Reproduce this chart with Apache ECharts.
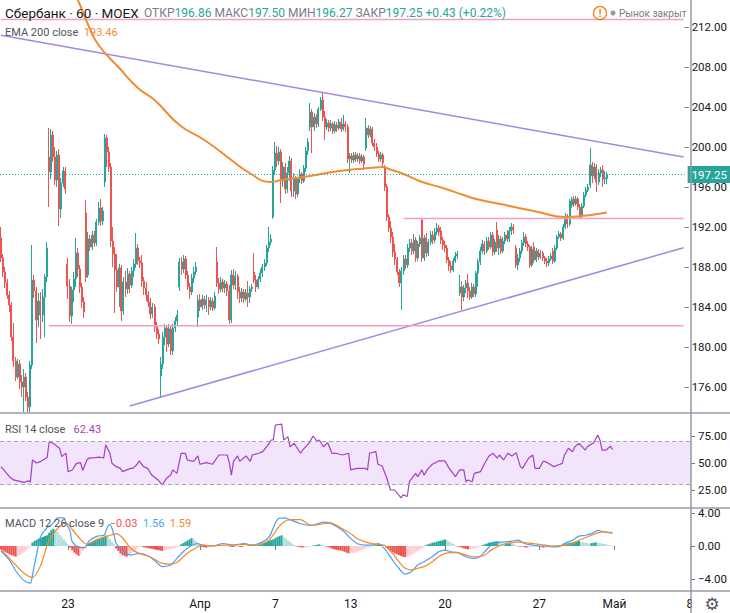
<!DOCTYPE html>
<html><head><meta charset="utf-8">
<script src="https://cdn.jsdelivr.net/npm/echarts@6/dist/echarts.min.js"></script>
<style>html,body{margin:0;padding:0;background:#fff}#c{width:730px;height:613px}</style>
</head><body><div id="c"></div><script>
// ---------- DATA ----------
const tradingDays = ['17.03','18.03','19.03','20.03','23.03','24.03','25.03','26.03','27.03','30.03','31.03','01.04','02.04','03.04','06.04','07.04','08.04','09.04','10.04','13.04','14.04','15.04','16.04','17.04','20.04','21.04','22.04','23.04','24.04','27.04','28.04','29.04','30.04'];
const sessionHours = ['10:00','11:00','12:00','13:00','14:00','15:00','16:00','17:00','18:00'];
const futureSlots = 37;
const xTickLabels = [[32,'23'],[95,'Апр'],[131,'7'],[167,'13'],[212,'20'],[257,'27'],[293,'Май'],[329,'8']];
const priceTicks = [176,180,184,188,192,196,200,204,208,212];
const rsiTicks = [25,50,75];
const macdTicks = [-4,0,4];
const lastPrice = 197.25;

// [open, close, low, high]
const ohlc = [
[190.9,188.9,188.5,192.0],[188.9,187.5,187.0,189.3],[187.5,186.4,185.9,188.0],[186.4,185.2,184.8,186.8],[185.2,184.2,183.5,185.6],
[184.2,181.0,180.6,184.5],[181.0,178.6,178.0,182.4],[178.6,177.0,176.6,179.0],[177.0,178.3,176.8,178.8],[178.3,176.5,175.8,178.7],[176.5,176.0,175.0,177.2],[176.0,177.0,173.5,177.8],[177.0,175.0,174.6,177.4],[175.0,174.0,173.4,175.5],
[174.0,178.2,173.4,178.6],[178.2,186.7,177.8,190.2],[186.7,185.6,184.9,187.2],[185.6,182.7,180.4,186.0],[182.7,184.6,182.0,185.4],[184.6,183.2,180.8,185.5],[183.2,185.0,182.5,185.8],[185.0,187.0,181.0,187.3],[187.0,189.9,186.5,190.5],
[199.0,197.5,194.0,201.9],[197.5,201.2,196.8,201.8],[201.2,199.0,198.5,201.6],[199.0,196.7,196.2,200.0],[196.7,199.2,196.0,199.6],[199.2,193.8,192.1,199.8],[193.8,196.4,192.9,196.9],[196.4,197.6,196.0,198.0],[197.6,195.8,195.3,198.0],
[188.3,186.1,184.8,188.9],[186.1,183.1,182.5,186.8],[183.1,185.7,182.3,186.0],[185.7,186.8,184.5,187.5],[186.8,189.4,186.0,190.9],[189.4,187.8,187.0,189.9],[187.8,186.0,185.4,188.2],[186.0,184.5,183.9,186.4],[184.5,183.5,182.9,185.0],
[193.4,187.0,186.5,194.7],[187.2,190.8,186.9,191.5],[190.8,190.0,189.6,191.2],[190.0,191.2,189.7,191.6],[191.2,190.4,190.0,191.6],[190.4,192.5,190.1,192.8],[192.5,193.9,192.2,194.5],[193.9,192.6,192.1,194.8],[192.6,193.6,192.2,194.0],
[196.5,200.9,196.0,201.3],[200.9,199.5,198.0,201.2],[199.5,198.0,197.5,200.0],[198.0,190.6,190.0,198.4],[190.6,189.3,188.0,192.0],[189.3,187.7,183.4,190.0],[187.7,186.0,185.5,189.3],[186.0,187.9,184.0,188.3],[187.9,183.6,182.6,188.2],
[183.6,186.5,183.2,187.0],[186.5,185.8,185.0,187.6],[185.8,187.3,185.3,187.9],[187.3,186.2,185.4,187.6],[186.2,187.6,185.9,188.0],[187.6,188.3,187.0,188.8],[188.3,189.9,187.9,191.4],[189.9,188.6,188.2,190.3],[188.6,188.4,187.9,189.0],
[188.4,186.6,186.0,189.2],[186.6,185.9,185.2,187.0],[185.9,185.2,184.6,186.5],[185.2,184.5,184.0,185.6],[184.5,183.3,182.8,184.9],[183.3,184.0,182.9,184.4],[184.0,182.0,181.5,184.3],[182.0,181.3,180.8,182.5],[181.3,180.8,180.3,181.8],
[177.1,178.3,175.0,179.0],[178.3,181.0,177.8,181.5],[181.0,181.9,180.2,182.3],[181.9,180.3,179.5,182.2],[180.3,181.8,180.0,182.3],[181.8,179.6,179.2,182.2],[179.6,181.9,179.2,182.3],[181.9,182.6,181.5,183.0],[182.6,183.2,182.2,183.7],
[186.0,188.5,185.6,188.9],[188.5,187.8,187.2,189.0],[187.8,188.8,187.4,189.2],[188.8,187.2,186.8,189.1],[187.2,186.0,185.7,187.6],[186.0,185.5,184.8,186.4],[185.5,186.9,185.2,187.3],[186.9,187.5,186.4,188.0],[187.5,188.0,187.2,188.5],
[183.0,184.7,182.0,185.2],[184.7,184.0,183.6,185.3],[184.0,184.8,183.7,185.2],[184.8,184.2,183.8,185.1],[184.2,184.7,183.5,185.2],[184.7,184.0,183.2,185.0],[184.0,184.6,183.7,185.0],[184.6,183.9,183.6,184.9],[183.9,185.1,183.7,185.5],
[188.5,186.4,186.0,190.0],[186.4,185.8,185.3,186.9],[185.8,186.5,185.5,187.0],[186.5,185.9,185.5,186.8],[185.9,186.3,185.4,186.7],[186.3,185.6,185.1,186.6],[185.6,182.7,182.3,186.2],[182.7,187.2,182.4,187.7],[187.2,186.2,185.8,187.8],
[186.2,187.1,185.7,187.6],[187.1,185.5,184.8,187.3],[185.5,184.9,184.4,186.0],[184.9,185.5,184.5,185.9],[185.5,184.8,184.4,185.8],[184.8,185.4,184.6,185.8],[185.4,185.0,184.0,186.6],[185.0,185.8,184.4,186.1],[185.8,186.0,185.5,186.3],
[187.5,186.7,186.4,189.4],[186.7,186.0,185.5,187.2],[186.0,186.8,185.8,187.1],[186.8,187.4,186.5,187.8],[187.4,188.0,187.0,188.3],[188.0,188.4,187.6,188.8],[188.4,189.9,188.1,190.2],[189.9,190.5,189.5,192.0],[190.5,190.8,190.2,191.3],
[193.0,197.7,192.8,198.1],[197.7,199.4,197.2,200.5],[199.4,198.6,198.0,200.1],[198.6,199.5,198.2,200.0],[199.5,196.6,194.4,199.8],[196.6,198.0,196.0,198.5],[198.0,195.8,195.3,198.4],[195.8,197.4,195.4,198.0],[197.4,198.6,196.6,199.1],
[198.6,195.6,195.0,198.9],[195.6,196.8,195.0,197.4],[196.8,195.3,194.8,197.1],[195.3,196.8,195.0,197.0],[196.8,197.3,196.4,197.8],[197.3,196.6,196.3,197.5],[196.6,197.9,196.4,198.2],[197.9,199.6,197.5,200.0],[199.6,200.5,199.2,200.9],
[202.0,203.5,201.6,204.4],[203.5,202.0,199.4,203.8],[202.0,203.0,201.6,203.4],[203.0,202.3,201.9,203.3],[202.3,203.8,202.0,204.0],[203.8,204.7,203.6,205.0],[204.7,203.0,202.6,205.4],[203.0,202.0,200.7,203.6],[202.0,202.4,201.7,202.8],
[202.4,201.9,201.5,202.7],[201.9,202.3,201.6,202.7],[202.3,201.6,201.3,202.5],[201.6,202.2,201.4,202.6],[202.2,201.9,201.5,202.5],[201.9,202.5,201.7,202.8],[202.5,201.8,201.5,202.9],[201.8,202.3,201.6,203.2],[202.3,202.0,201.5,202.6],
[202.0,198.8,198.4,202.3],[198.8,199.1,197.4,199.4],[199.1,198.7,198.4,199.4],[198.7,199.2,198.4,199.5],[199.2,198.8,198.5,199.5],[198.8,199.1,198.5,199.4],[199.1,198.6,198.3,199.4],[198.6,199.0,198.4,199.3],[199.0,198.3,197.7,199.2],
[199.9,201.9,199.6,202.9],[201.9,201.2,200.9,202.2],[201.2,201.8,201.0,202.1],[201.8,200.4,200.1,202.0],[200.4,200.0,199.6,200.8],[200.0,199.3,199.0,200.4],[199.3,198.8,198.5,199.6],[198.8,199.2,198.5,199.5],[199.2,198.4,198.0,199.4],
[198.0,196.0,195.6,198.2],[196.0,193.0,192.6,196.3],[193.0,191.9,191.5,193.3],[191.9,191.0,190.4,192.6],[191.0,189.5,189.0,191.5],[189.5,188.8,188.2,190.3],[188.8,187.5,187.2,189.0],[187.5,186.4,186.0,187.8],[186.4,187.6,183.7,188.0],
[187.6,188.8,187.2,189.2],[188.8,188.2,187.8,189.2],[188.2,189.9,187.9,190.3],[189.9,190.4,189.5,190.8],[190.4,189.6,189.2,190.8],[189.6,190.7,189.3,191.3],[190.7,188.9,188.5,191.0],[188.9,190.3,188.6,190.6],[190.3,190.9,190.0,191.2],
[192.7,188.9,188.5,192.8],[188.9,190.9,188.6,191.2],[190.9,189.4,189.0,191.4],[189.4,190.5,189.1,190.8],[190.5,191.2,190.2,191.6],[191.2,190.7,190.3,191.6],[190.7,191.5,190.4,191.9],[191.5,191.9,191.2,192.4],[191.9,191.5,191.1,192.2],
[191.6,190.7,190.3,192.0],[190.7,190.2,189.7,191.0],[190.2,189.9,189.5,190.6],[189.9,188.7,188.4,190.2],[188.7,188.1,187.6,189.0],[188.1,187.7,187.4,188.6],[187.7,188.6,187.5,188.9],[188.6,189.1,188.4,189.5],[189.1,189.3,188.8,189.6],
[185.4,186.0,185.1,187.2],[186.0,185.0,183.7,186.6],[185.0,185.9,184.6,186.2],[185.9,186.4,185.4,186.7],[186.4,185.6,184.9,187.3],[185.6,185.0,184.7,186.0],[185.0,186.0,184.8,186.4],[186.0,185.3,185.0,186.3],[185.3,187.4,185.0,187.6],
[187.4,188.5,186.0,188.8],[188.5,189.6,188.2,190.0],[189.6,190.3,189.3,190.7],[190.3,189.6,189.2,190.6],[189.6,190.6,189.4,191.0],[190.6,190.0,189.7,191.0],[190.0,191.2,189.8,191.5],[191.2,189.5,189.1,191.5],[189.5,190.5,189.2,190.8],
[191.7,189.9,189.5,192.5],[189.9,190.8,189.2,191.2],[190.8,189.6,189.3,191.1],[189.6,190.6,189.4,191.0],[190.6,191.2,190.3,191.5],[191.2,190.8,190.5,191.7],[190.8,191.6,190.5,192.0],[191.6,192.0,191.2,192.4],[192.0,191.7,191.3,192.3],
[189.9,188.2,187.9,190.2],[188.2,188.9,187.7,189.3],[188.9,189.6,188.5,189.9],[189.6,190.4,189.3,190.7],[190.4,191.0,190.1,191.5],[191.0,190.3,190.0,191.3],[190.3,190.0,189.6,190.6],[190.0,188.2,187.9,190.2],[188.2,189.8,188.0,190.1],
[190.0,188.7,188.4,190.5],[188.7,189.6,188.5,189.9],[189.6,189.0,188.7,189.8],[189.0,189.4,188.8,189.7],[189.4,188.9,188.6,189.6],[188.9,188.6,188.3,189.1],[188.6,188.4,188.0,188.9],[188.4,188.8,188.1,189.1],[188.8,189.1,188.6,189.4],
[189.6,188.6,188.3,189.9],[188.6,189.9,188.4,190.2],[189.9,191.0,189.7,191.2],[191.0,191.3,190.8,191.6],[191.3,190.9,190.6,191.5],[190.9,192.0,190.7,192.3],[192.0,193.1,191.8,193.4],[193.1,192.3,191.9,193.3],[192.3,194.6,192.1,194.8],
[194.2,194.8,193.9,195.0],[194.8,194.3,194.0,195.1],[194.3,194.8,194.1,195.1],[194.8,194.0,193.7,195.0],[194.0,193.1,192.8,194.3],[193.1,194.1,192.9,194.4],[194.1,195.2,193.9,195.5],[195.2,195.7,195.0,196.0],[195.7,196.0,195.5,196.3],
[196.2,198.2,195.9,199.9],[198.2,197.1,196.4,198.5],[197.1,198.0,196.8,198.4],[198.0,196.5,195.5,198.3],[196.5,197.4,196.2,197.8],[197.4,197.7,197.0,198.0],[197.7,196.8,196.0,198.2],[196.8,196.9,196.3,197.6],[196.86,197.25,196.27,197.5]
];

// EMA 200 (bar index, value)
const ema200 = [[35,215.2],[37,214.7],[42,212.2],[47,210.2],[57,207.9],[66,205.9],[74,204.7],[86,202.2],[98,200.7],[111,198.7],[119,197.5],[130,196.5],[135,196.7],[146,197.0],[157,197.4],[167,197.7],[178,197.9],[184,198.0],[187,197.8],[194,197.3],[203,196.5],[213,195.9],[223,195.2],[229,194.8],[245,194.1],[259,193.5],[272,193.0],[280,193.1],[292,193.46]];

// drawn lines (bar index, price)
const resistanceLine = [[0,211.18],[329,199.0]];
const supportLine = [[62,174.1],[329,189.93]];
const levelTop = [[0,212.75],[329,212.75]];
const levelMid = [[194,192.85],[329,192.85]];
const levelLow = [[23,182.13],[329,182.13]];

// RSI 14 (bar index, value)
const rsi = [[0,46.6],[4,37.3],[6,34.3],[9,33],[11,32],[13,33.5],[14,32.5],[15,52.8],[17,50],[19,51.5],[20,52.8],[22,55],[23,69.7],[25,68],[27,65],[28,63.5],[29,55.9],[31,59],[32,42],[34,43.5],[36,49.7],[38,50.3],[39,43],[41,52.8],[42,54.6],[45,55],[47,55.5],[49,54.6],[50,66.7],[52,59],[53,49.7],[55,46.6],[57,45],[58,42],[60,43.6],[62,45],[63,45],[65,48.8],[66,52],[68,46.6],[70,45],[72,38.8],[75,34.3],[77,29.6],[79,35.8],[81,38.8],[82,43.6],[84,40.4],[86,59],[88,59],[89,52.8],[92,51.5],[94,56.5],[95,48.8],[98,50.3],[101,48.8],[104,57.4],[106,57.4],[108,57.4],[109,50.3],[110,38.8],[111,51.5],[113,56.5],[114,51.5],[117,56.5],[119,51.5],[120,57.4],[123,59],[125,60.5],[128,68.2],[129,71.3],[130,71.3],[131,85.2],[134,86],[135,71.3],[137,74.4],[138,65],[140,68.2],[141,65],[143,59],[144,62],[147,68.2],[149,75],[151,70],[152,71.3],[154,65],[156,68.8],[158,59],[160,59],[163,57.4],[166,59],[167,43.6],[170,45],[174,45],[175,43.6],[176,59],[179,60.5],[180,48.8],[182,47.2],[184,37.3],[186,25],[188,25],[191,17.6],[192,20.5],[194,19],[195,32.7],[198,40.4],[199,37.3],[201,43.6],[202,38.8],[204,45],[206,48.8],[209,51.9],[212,51.9],[214,45],[217,37.3],[219,43.6],[221,43.6],[222,32.7],[223,34.3],[225,32.7],[226,40.4],[229,42],[231,49.7],[233,56.5],[235,59],[237,54.6],[238,57.4],[240,52.8],[242,59],[244,56.5],[246,59.6],[248,46.6],[249,45],[252,54.6],[254,57.4],[255,45],[257,45],[259,51.9],[261,50.3],[264,46.6],[266,48.2],[268,49.7],[269,57],[271,63.6],[273,60.5],[274,65],[276,68.2],[279,62],[280,65],[283,68.8],[285,75.9],[286,71.3],[287,62],[289,62],[291,65.6],[292,62.43]];

// MACD 12 26 9
const macdLine = [[0,-0.6],[4,-1.7],[7,-3.0],[11,-4.2],[14,-4.5],[15,-3.5],[17,-1.0],[19,1.2],[22,2.2],[25,2.8],[27,3.4],[30,3.4],[31,2.8],[33,1.8],[34,0.5],[38,-0.2],[40,-0.2],[42,0.6],[46,1.2],[49,1.3],[51,2.4],[52,2.6],[54,1.3],[55,0.3],[58,-0.5],[62,-1.1],[66,-0.9],[71,-1.3],[74,-1.9],[77,-2.5],[81,-2.3],[84,-1.5],[87,-0.7],[90,-0.1],[94,0.3],[96,0.1],[101,0.0],[106,0.3],[111,0.1],[116,0.3],[120,0.1],[125,0.5],[128,1.1],[132,3.2],[135,3.4],[138,3.2],[143,2.7],[148,2.5],[154,2.9],[157,2.8],[163,1.9],[167,0.9],[170,0.3],[174,0.1],[177,0.1],[180,0.3],[183,-0.3],[187,-1.7],[190,-2.7],[193,-3.4],[196,-3.1],[199,-2.3],[202,-1.9],[206,-1.3],[209,-0.7],[212,-0.5],[215,-0.7],[218,-0.8],[222,-1.3],[225,-1.5],[228,-1.4],[231,-0.7],[234,0.1],[237,0.4],[241,0.5],[244,0.6],[247,0.7],[250,0.3],[254,0.1],[257,0.0],[260,0.0],[263,-0.1],[266,-0.1],[269,0.3],[273,0.7],[276,1.2],[279,1.3],[282,1.5],[285,1.9],[288,1.7],[292,1.56]];
const signalLine = [[0,-0.4],[7,-2.3],[11,-3.3],[15,-3.8],[19,-2.3],[22,0.1],[25,1.5],[29,2.6],[31,2.8],[34,2.0],[38,0.8],[41,0.2],[46,0.8],[51,1.2],[55,1.5],[58,1.0],[62,-0.3],[66,-0.9],[71,-1.3],[74,-1.7],[77,-2.1],[81,-2.2],[84,-2.0],[87,-1.3],[90,-0.7],[94,-0.1],[96,0.1],[101,0.0],[106,0.1],[111,0.1],[116,0.2],[120,0.1],[125,0.3],[128,0.7],[132,2.1],[135,2.9],[138,3.2],[143,3.2],[148,2.5],[154,2.7],[157,2.8],[163,2.1],[167,1.5],[170,0.9],[174,0.5],[177,0.3],[180,0.2],[183,0.1],[187,-0.9],[190,-1.9],[193,-2.7],[196,-2.9],[199,-2.7],[202,-2.5],[206,-1.9],[209,-1.3],[212,-0.9],[215,-0.8],[218,-0.8],[222,-1.1],[225,-1.3],[228,-1.3],[231,-1.1],[234,-0.5],[237,-0.1],[241,0.3],[244,0.4],[247,0.5],[250,0.4],[254,0.3],[257,0.2],[260,0.1],[263,0.0],[266,0.0],[269,0.1],[273,0.3],[276,0.7],[279,1.0],[282,1.3],[285,1.6],[288,1.7],[292,1.59]];
const macdHist = [
-0.4,-0.55,-0.7,-0.85,-1.0,-1.1,-1.2,-1.3,
-1.25,-1.1,-0.9,-0.7,-0.5,-0.3,-0.1,
0.4,0.6,0.75,0.9,1.0,1.1,1.2,1.3,
1.6,1.9,2.1,
2.0,1.7,1.4,1.1,0.8,0.5,0.2,
-0.2,-0.5,-0.8,-1.0,-1.2,
-1.0,-0.6,-0.3,
0.2,0.35,0.5,0.6,0.7,0.8,0.9,1.0,1.1,1.3,
1.1,0.8,0.5,0.2,
-0.3,-0.6,-0.9,-1.1,-1.2,-1.3,
-1.1,-0.9,-0.7,-0.5,-0.3,-0.15,
-0.1,-0.15,-0.2,-0.25,-0.3,-0.35,-0.4,-0.45,-0.5,-0.55,-0.6,
-0.55,-0.5,-0.45,-0.4,-0.3,-0.25,-0.15,-0.1,
0.2,0.35,0.5,0.65,0.8,0.95,
0.8,0.6,0.35,0.15,
-0.1,-0.15,-0.2,-0.15,-0.1,-0.05,
0.05,0.1,0.15,0.15,0.1,0.08,0.05,
-0.05,-0.1,-0.12,-0.1,-0.08,-0.1,-0.12,-0.08,-0.05,
0.05,0.08,0.1,0.12,0.1,0.15,0.2,
0.3,0.4,0.5,0.6,0.7,0.8,0.95,1.1,1.2,1.3,
1.1,0.9,0.7,0.5,0.3,0.15,
-0.05,-0.1,-0.15,-0.2,-0.2,-0.15,-0.1,-0.05,
0.05,0.1,0.15,0.2,0.15,0.1,
-0.05,-0.1,-0.2,-0.3,-0.4,-0.45,-0.5,-0.55,-0.6,-0.7,
-0.8,-0.9,-0.9,-0.85,-0.8,-0.7,-0.6,-0.5,-0.4,-0.3,
-0.2,-0.15,-0.1,
0.05,0.1,0.15,0.2,0.15,0.1,
-0.2,-0.4,-0.6,
-0.75,-0.9,-1.0,-1.1,-1.2,-1.3,-1.35,
-1.3,-1.2,-1.1,-0.95,-0.8,-0.6,-0.45,-0.3,-0.15,
0.1,0.2,0.3,0.4,0.45,0.5,0.6,0.65,0.7,0.8,
0.7,0.55,0.4,0.25,0.1,
-0.05,-0.1,-0.2,-0.3,-0.35,-0.4,-0.4,-0.35,-0.3,
-0.25,-0.15,-0.05,
0.1,0.2,0.3,0.4,0.45,0.5,0.55,0.6,
0.5,0.35,0.2,
0.25,0.3,0.35,0.3,0.2,0.1,
-0.05,-0.1,-0.1,
-0.15,-0.2,-0.2,-0.15,-0.1,
0.05,0.05,-0.05,
-0.1,-0.2,-0.2,-0.1,
-0.05,0.02,0.05,0.05,0.08,0.1,0.12,
0.2,0.3,0.35,0.4,0.45,0.5,0.55,0.6,
0.5,0.45,0.4,0.35,0.3,
0.35,0.4,0.45,0.4,
0.35,0.3,0.25,0.2,0.12,0.05,-0.03
];

// ---------- BUILD ----------
const categories = [];
tradingDays.forEach((d, k) => (k === 0 ? sessionHours.slice(4) : sessionHours).forEach(h => categories.push(d + ' ' + h)));
for (let k = 1; k <= futureSlots; k++) categories.push('f' + k);
const tickMap = new Map(xTickLabels);

const UP = '#26a69a', DOWN = '#ef5350';
const FONT = 'Roboto, "Noto Sans", sans-serif';
const TXT = '#131722', GRAYTXT = '#787b86', DARKTXT = '#50535e';

const histData = macdHist.map((v, i) => {
  const prev = i === 0 ? 0 : macdHist[i - 1];
  let c;
  if (v >= 0) c = v >= prev ? UP : '#b2dfdb';
  else c = v < prev ? DOWN : '#ffcdd2';
  return { value: v, itemStyle: { color: c } };
});

const fmt2 = v => (v < 0 ? '\u2212' + Math.abs(v).toFixed(2) : v.toFixed(2));

function xAx(gi, showLabels) {
  return {
    type: 'category', gridIndex: gi, data: categories, boundaryGap: true,
    axisLine: { show: false }, splitLine: { show: false },
    axisTick: showLabels ? { show: true, alignWithLabel: true, length: 4, interval: (i) => tickMap.has(i), lineStyle: { color: '#787b86' } } : { show: false },
    axisLabel: showLabels ? { show: true, interval: (i) => tickMap.has(i), formatter: (v, i) => tickMap.get(i) || '', color: TXT, fontSize: 12, fontFamily: FONT, margin: 7 } : { show: false }
  };
}
function yAx(gi, min, max, ticks) {
  return {
    type: 'value', gridIndex: gi, position: 'right', min: min, max: max, scale: true,
    axisLine: { show: false }, splitLine: { show: false },
    axisTick: { show: true, length: 4, customValues: ticks, lineStyle: { color: '#787b86' } },
    axisLabel: { show: true, customValues: ticks, formatter: fmt2, color: TXT, fontSize: 11.5, fontFamily: FONT, margin: 7 }
  };
}
function seg(data, color, width) {
  return { type: 'line', xAxisIndex: 0, yAxisIndex: 0, data: data, symbol: 'none', silent: true,
    lineStyle: { color: color, width: width }, z: 3 };
}

// rich-text legend rows: [x, y, fontSize, [[text, color], ...]]
const legendRows = [
  [144, 13, 12, [['ОТКР', GRAYTXT], ['196.86', UP], [' МАКС', GRAYTXT], ['197.50', UP], [' МИН', GRAYTXT], ['196.27', UP], [' ЗАКР', GRAYTXT], ['197.25', UP], [' +0.43', UP], [' (+0.22%)', UP]]],
  [5, 32, 11, [['EMA 200 close', DARKTXT], ['  193.46', '#f08c32']]],
  [5, 429, 11, [['RSI 14 close', DARKTXT], ['   62.43', '#a53fc3']]],
  [5, 523, 11, [['MACD 12 26 close 9', DARKTXT], ['  \u22120.03', DOWN], ['  1.56', '#4a9ff5'], ['  1.59', '#f08a2e']]]
];
function richRow(r) {
  const rich = {};
  let text = '';
  r[3].forEach((p, k) => { rich['s' + k] = { fill: p[1], fontSize: r[2], fontFamily: FONT }; text += '{s' + k + '|' + p[0] + '}'; });
  return { type: 'text', z: 50, style: { text: text, rich: rich, x: r[0], y: r[1], verticalAlign: 'middle', fontSize: r[2], fontFamily: FONT } };
}

const graphics = [
  { type: 'line', shape: { x1: 0, y1: 413, x2: 730, y2: 413 }, style: { stroke: '#b2b5be', lineWidth: 2 }, z: 50 },
  { type: 'line', shape: { x1: 0, y1: 508, x2: 730, y2: 508 }, style: { stroke: '#b2b5be', lineWidth: 2 }, z: 50 },
  { type: 'line', shape: { x1: 0, y1: 591, x2: 730, y2: 591 }, style: { stroke: '#b2b5be', lineWidth: 2 }, z: 50 },
  { type: 'rect', shape: { x: 692, y: 592, width: 38, height: 21 }, style: { fill: '#fff' }, z: 60 },
  { type: 'line', shape: { x1: 691, y1: 0, x2: 691, y2: 613 }, style: { stroke: '#9598a1', lineWidth: 1.5 }, z: 61 },
  { type: 'circle', shape: { cx: 600, cy: 13, r: 6.5 }, style: { stroke: '#f57c00', fill: 'none', lineWidth: 1.2 }, z: 50 },
  { type: 'text', style: { text: '!', x: 600, y: 13.5, fill: '#f57c00', font: 'bold 10px ' + FONT, align: 'center', verticalAlign: 'middle' }, z: 50 },
  { type: 'circle', shape: { cx: 613, cy: 13, r: 2.5 }, style: { fill: '#9598a1' }, z: 50 },
  { type: 'text', style: { text: 'Рынок закрыт', x: 619, y: 13, fill: GRAYTXT, font: '10px ' + FONT, verticalAlign: 'middle' }, z: 50 },
  { type: 'text', style: { text: 'Сбербанк · 60 · MOEX', x: 5, y: 13, fill: TXT, font: '13.5px ' + FONT, verticalAlign: 'middle' }, z: 50 },
  { type: 'text', style: { text: '\u2699', x: 712, y: 604, fill: DARKTXT, font: '17px "DejaVu Sans"', align: 'center', verticalAlign: 'middle' }, z: 62 }
].concat(legendRows.map(richRow));

const option = {
  animation: false,
  backgroundColor: '#ffffff',
  grid: [
    { left: 0, top: 0, width: 691, height: 413 },
    { left: 0, top: 414, width: 691, height: 94 },
    { left: 0, top: 509, width: 691, height: 82 }
  ],
  xAxis: [xAx(0, false), xAx(1, false), xAx(2, true)],
  yAxis: [
    yAx(0, 173.4, 214.7, priceTicks),
    yAx(1, 8.33, 95.37, rsiTicks),
    yAx(2, -5.4545, 4.4848, macdTicks)
  ],
  series: [
    { type: 'candlestick', xAxisIndex: 0, yAxisIndex: 0, data: ohlc, barWidth: 1.5, z: 2,
      itemStyle: { color: UP, color0: DOWN, borderColor: UP, borderColor0: DOWN, borderWidth: 1 },
      markLine: { silent: true, symbol: 'none', data: [{ yAxis: lastPrice }],
        lineStyle: { color: UP, type: [1, 2], width: 1 },
        label: { position: 'end', distance: 3, formatter: lastPrice.toFixed(2), color: '#fff', backgroundColor: UP,
          padding: [3, 4, 2, 4], fontSize: 11.5, fontFamily: FONT } } },
    { type: 'line', xAxisIndex: 0, yAxisIndex: 0, data: ema200, symbol: 'none', smooth: true, silent: true,
      lineStyle: { color: '#f08c32', width: 2 }, z: 4 },
    seg(resistanceLine, '#a488e0', 1.5),
    seg(supportLine, '#a488e0', 1.5),
    seg(levelTop, '#f4a0c4', 1.5),
    seg(levelMid, '#f4a0c4', 1.5),
    seg(levelLow, '#f4a0c4', 1.5),
    { type: 'line', xAxisIndex: 1, yAxisIndex: 1, data: rsi, symbol: 'none', silent: true,
      lineStyle: { color: '#a53fc3', width: 1.2 }, z: 4,
      markArea: { silent: true, itemStyle: { color: '#f2e4fb' }, data: [[{ yAxis: 30 }, { yAxis: 70 }]] },
      markLine: { silent: true, symbol: 'none', label: { show: false },
        lineStyle: { color: '#a3a6af', type: [4, 3], width: 1 }, data: [{ yAxis: 70 }, { yAxis: 30 }] } },
    { type: 'bar', xAxisIndex: 2, yAxisIndex: 2, data: histData, barCategoryGap: '0%', silent: true, z: 2 },
    { type: 'line', xAxisIndex: 2, yAxisIndex: 2, data: macdLine, symbol: 'none', smooth: 0.3, silent: true,
      lineStyle: { color: '#4a9ff5', width: 1.2 }, z: 4 },
    { type: 'line', xAxisIndex: 2, yAxisIndex: 2, data: signalLine, symbol: 'none', smooth: 0.3, silent: true,
      lineStyle: { color: '#f08a2e', width: 1.2 }, z: 4 }
  ],
  graphic: graphics
};

const chart = echarts.init(document.getElementById('c'), null, { renderer: 'svg', width: 730, height: 613 });
chart.setOption(option);
</script></body></html>
